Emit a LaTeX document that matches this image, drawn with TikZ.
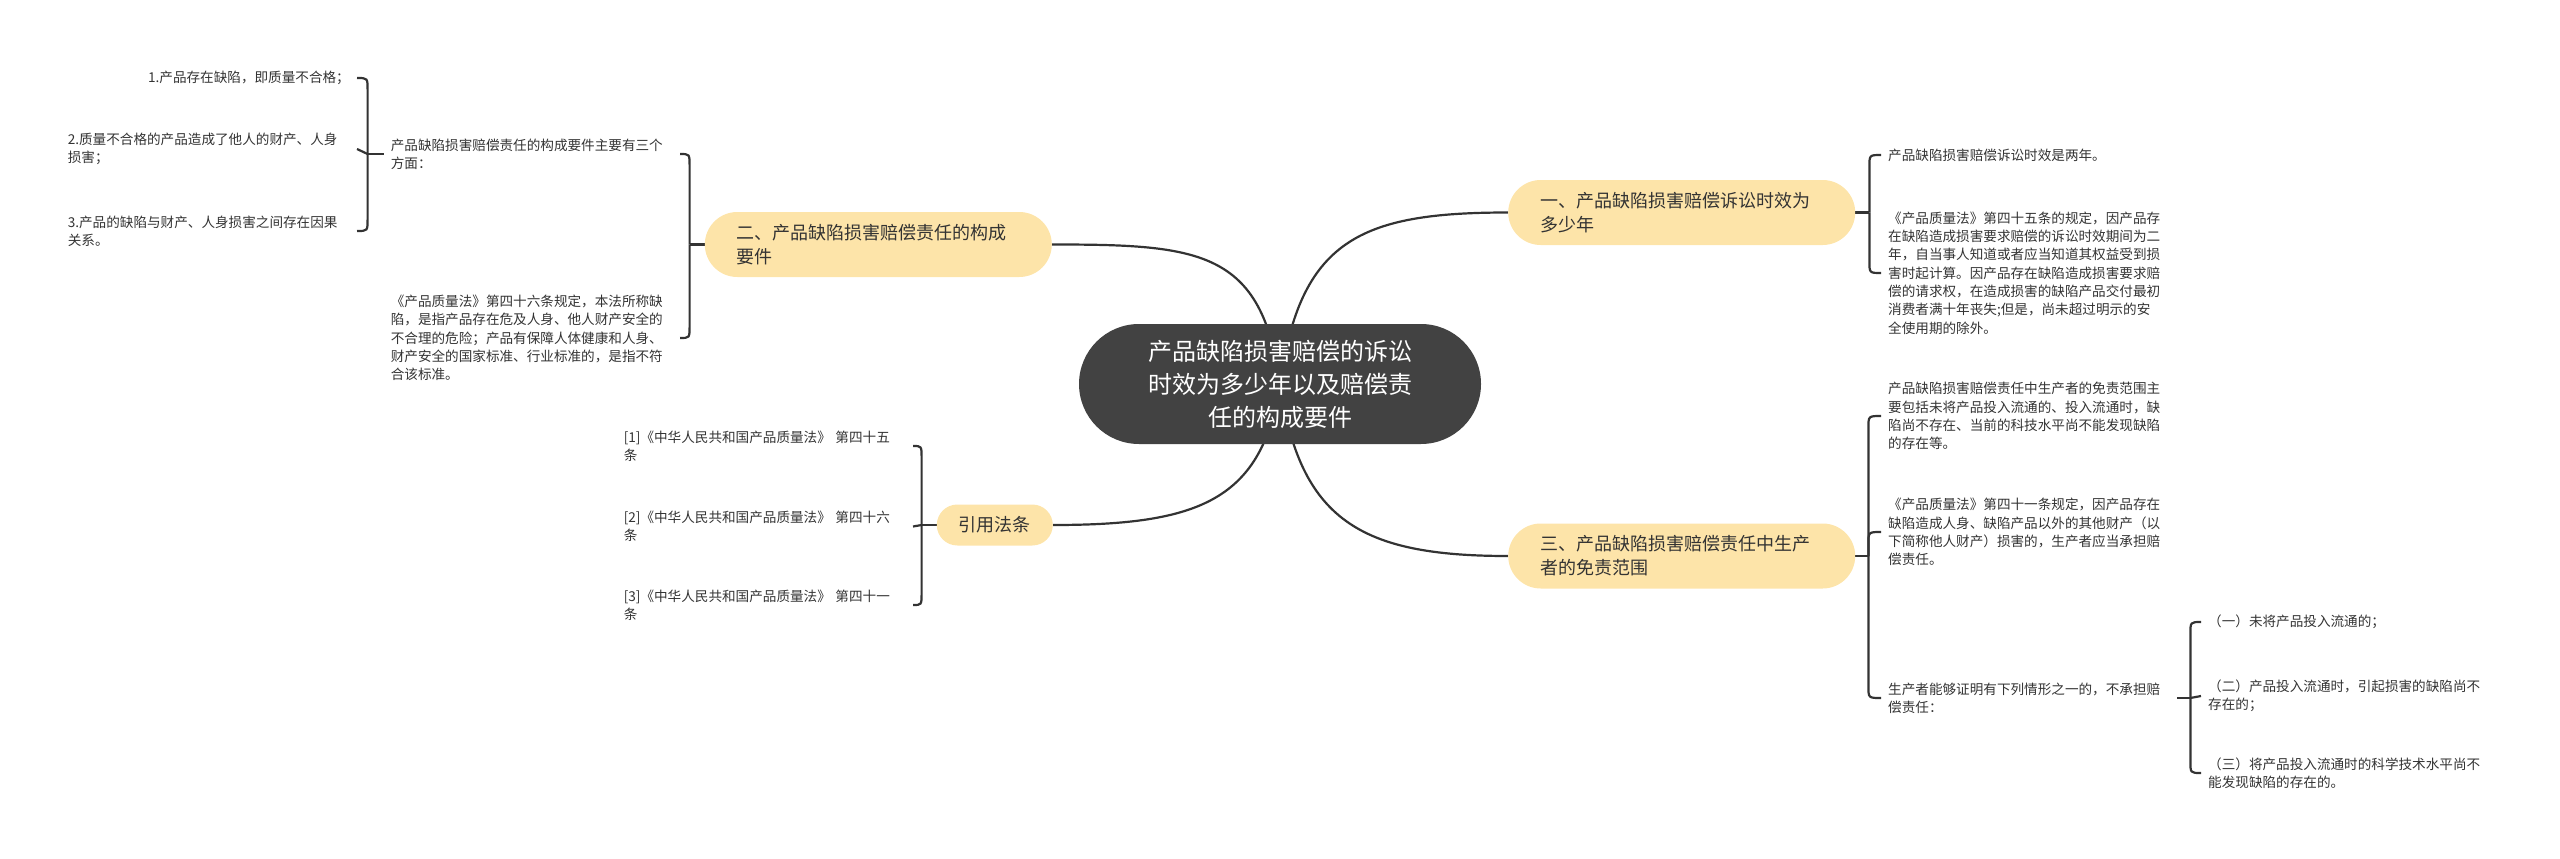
\documentclass[tikz,border=0pt]{standalone}
\usepackage{fontspec}
\setmainfont{Noto Sans CJK SC}
\usetikzlibrary{calc,backgrounds}
\definecolor{linec}{HTML}{333333}
\definecolor{rootc}{HTML}{424242}
\definecolor{lvc}{HTML}{FDE4A9}
\definecolor{txtc}{HTML}{333333}
\tikzset{
  conn/.style={draw=linec, line width=2.2pt},
  rootbox/.style={fill=rootc, text=white, rounded corners=60pt, minimum width=402pt, minimum height=120pt, align=center, inner sep=0pt, font=\fontsize{24}{33}\selectfont},
  lvbox/.style={fill=lvc, text=txtc, rounded corners=32.5pt, minimum height=65pt, inner xsep=32pt, inner ysep=0pt, text width=283pt, align=left, font=\fontsize{18}{24}\selectfont},
  smallbox/.style={text=txtc, inner xsep=7pt, inner ysep=0pt, text width=282pt, align=left, font=\fontsize{13.6}{18.3}\selectfont},
}
\begin{document}
\begin{tikzpicture}[x=1pt,y=-1pt]
\path[use as bounding box] (0,0) rectangle (2560,859);

% root
\node[rootbox] (root) at (1280,384) {产品缺陷损害赔偿的诉讼\\时效为多少年以及赔偿责\\任的构成要件};

% level 1
\node[lvbox, anchor=west] (n1) at (1508,212.5) {一、产品缺陷损害赔偿诉讼时效为\\多少年};
\node[lvbox, anchor=east] (n2) at (1052,244.5) {二、产品缺陷损害赔偿责任的构成\\要件};
\node[lvbox, anchor=west] (n3) at (1508,556) {三、产品缺陷损害赔偿责任中生产\\者的免责范围};
\node[lvbox, text width=72pt, inner xsep=22pt, minimum height=41pt, rounded corners=20.5pt, anchor=east] (n4) at (1053,525) {引用法条};

% children of n1
\node[smallbox, anchor=west] (c11) at (1881,155) {产品缺陷损害赔偿诉讼时效是两年。};
\node[smallbox, anchor=west] (c12) at (1881,273) {《产品质量法》第四十五条的规定，因产品存\\在缺陷造成损害要求赔偿的诉讼时效期间为二\\年，自当事人知道或者应当知道其权益受到损\\害时起计算。因产品存在缺陷造成损害要求赔\\偿的请求权，在造成损害的缺陷产品交付最初\\消费者满十年丧失;但是，尚未超过明示的安\\全使用期的除外。};

% children of n3
\node[smallbox, anchor=west] (c31) at (1881,416) {产品缺陷损害赔偿责任中生产者的免责范围主\\要包括未将产品投入流通的、投入流通时，缺\\陷尚不存在、当前的科技水平尚不能发现缺陷\\的存在等。};
\node[smallbox, anchor=west] (c32) at (1881,532) {《产品质量法》第四十一条规定，因产品存在\\缺陷造成人身、缺陷产品以外的其他财产（以\\下简称他人财产）损害的，生产者应当承担赔\\偿责任。};
\node[smallbox, anchor=west] (c33) at (1881,698) {生产者能够证明有下列情形之一的，不承担赔\\偿责任：};

% children of c33
\node[smallbox, text width=295pt, anchor=west] (g1) at (2201,622) {（一）未将产品投入流通的；};
\node[smallbox, text width=295pt, anchor=west] (g2) at (2201,696) {（二）产品投入流通时，引起损害的缺陷尚不\\存在的；};
\node[smallbox, text width=295pt, anchor=west] (g3) at (2201,773) {（三）将产品投入流通时的科学技术水平尚不\\能发现缺陷的存在的。};

% children of n2
\node[smallbox, anchor=east] (cA) at (680,154) {产品缺陷损害赔偿责任的构成要件主要有三个\\方面：};
\node[smallbox, anchor=east] (cB) at (680,338) {《产品质量法》第四十六条规定，本法所称缺\\陷，是指产品存在危及人身、他人财产安全的\\不合理的危险；产品有保障人体健康和人身、\\财产安全的国家标准、行业标准的，是指不符\\合该标准。};

% children of cA
\node[smallbox, align=right, anchor=east] (a1) at (357,78) {1.产品存在缺陷，即质量不合格；};
\node[smallbox, anchor=east] (a2) at (357,149) {2.质量不合格的产品造成了他人的财产、人身\\损害；};
\node[smallbox, anchor=east] (a3) at (357,231) {3.产品的缺陷与财产、人身损害之间存在因果\\关系。};

% children of n4
\node[smallbox, anchor=east] (r1) at (913,446) {[1]《中华人民共和国产品质量法》 第四十五\\条};
\node[smallbox, anchor=east] (r2) at (913,526.5) {[2]《中华人民共和国产品质量法》 第四十六\\条};
\node[smallbox, anchor=east] (r3) at (913,605) {[3]《中华人民共和国产品质量法》 第四十一\\条};

\begin{pgfonlayer}{background}
% root to level 1
\draw[conn] (root.center) .. controls (1300,240) and (1360,212.5) .. (n1.west);
\draw[conn] (root.center) .. controls (1262,250) and (1200,244.5) .. (n2.east);
\draw[conn] (root.center) .. controls (1300,520) and (1360,556) .. (n3.west);
\draw[conn] (root.center) .. controls (1262,500) and (1200,525) .. (n4.east);

% n1 brace
\coordinate (j1) at ($(n1.east)+(14,0)$);
\draw[conn] (n1.east) -- (j1);
\draw[conn] (j1) -- ($(j1 |- c11.west)+(0,12)$) .. controls (j1 |- c11.west) .. (c11.west);
\draw[conn] (j1) -- ($(j1 |- c12.west)+(0,-12)$) .. controls (j1 |- c12.west) .. (c12.west);

% n3 brace
\coordinate (j3) at ($(n3.east)+(13,0)$);
\draw[conn] (n3.east) -- (j3);
\draw[conn] (j3) -- ($(j3 |- c31.west)+(0,12)$) .. controls (j3 |- c31.west) .. (c31.west);
\draw[conn] (j3) -- ($(j3 |- c32.west)+(0,12)$) .. controls (j3 |- c32.west) .. (c32.west);
\draw[conn] (j3) -- ($(j3 |- c33.west)+(0,-12)$) .. controls (j3 |- c33.west) .. (c33.west);

% c33 brace
\coordinate (j33) at ($(c33.east)+(13,0)$);
\draw[conn] (c33.east) -- (j33);
\draw[conn] (j33) -- ($(j33 |- g1.west)+(0,12)$) .. controls (j33 |- g1.west) .. (g1.west);
\draw[conn] (j33) -- (g2.west);
\draw[conn] (j33) -- ($(j33 |- g3.west)+(0,-12)$) .. controls (j33 |- g3.west) .. (g3.west);

% n2 brace
\coordinate (j2) at ($(n2.west)+(-15,0)$);
\draw[conn] (n2.west) -- (j2);
\draw[conn] (j2) -- ($(j2 |- cA.east)+(0,12)$) .. controls (j2 |- cA.east) .. (cA.east);
\draw[conn] (j2) -- ($(j2 |- cB.east)+(0,-12)$) .. controls (j2 |- cB.east) .. (cB.east);

% cA brace
\coordinate (jA) at ($(cA.west)+(-16,0)$);
\draw[conn] (cA.west) -- (jA);
\draw[conn] (jA) -- ($(jA |- a1.east)+(0,12)$) .. controls (jA |- a1.east) .. (a1.east);
\draw[conn] (jA) -- (a2.east);
\draw[conn] (jA) -- ($(jA |- a3.east)+(0,-12)$) .. controls (jA |- a3.east) .. (a3.east);

% n4 brace
\coordinate (j4) at ($(n4.west)+(-15,0)$);
\draw[conn] (n4.west) -- (j4);
\draw[conn] (j4) -- ($(j4 |- r1.east)+(0,12)$) .. controls (j4 |- r1.east) .. (r1.east);
\draw[conn] (j4) -- (r2.east);
\draw[conn] (j4) -- ($(j4 |- r3.east)+(0,-12)$) .. controls (j4 |- r3.east) .. (r3.east);
\end{pgfonlayer}
\end{tikzpicture}
\end{document}
